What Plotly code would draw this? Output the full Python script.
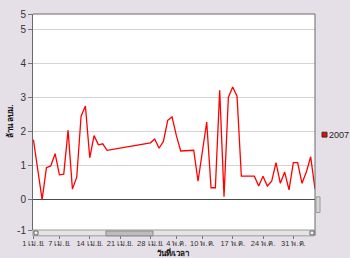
import plotly.graph_objects as go

# ---- data ----
dates = [
    "2007-04-01", "2007-04-02", "2007-04-03", "2007-04-04", "2007-04-05",
    "2007-04-06", "2007-04-07", "2007-04-08", "2007-04-09", "2007-04-10",
    "2007-04-11", "2007-04-12", "2007-04-13", "2007-04-14", "2007-04-15",
    "2007-04-16", "2007-04-17", "2007-04-18",
    "2007-04-28", "2007-04-29", "2007-04-30", "2007-05-01", "2007-05-02",
    "2007-05-03", "2007-05-04", "2007-05-05",
    "2007-05-08", "2007-05-09",
    "2007-05-11", "2007-05-12", "2007-05-13", "2007-05-14", "2007-05-15",
    "2007-05-16", "2007-05-17", "2007-05-18", "2007-05-19",
    "2007-05-22", "2007-05-23", "2007-05-24", "2007-05-25", "2007-05-26",
    "2007-05-27", "2007-05-28", "2007-05-29", "2007-05-30", "2007-05-31",
    "2007-06-01", "2007-06-02", "2007-06-03", "2007-06-04", "2007-06-05",
]
values_2007 = [
    1.76, 0.95, 0.00, 0.94, 0.99,
    1.35, 0.73, 0.75, 2.04, 0.31,
    0.66, 2.45, 2.75, 1.23, 1.88,
    1.61, 1.64, 1.45,
    1.67, 1.78, 1.51, 1.71, 2.33,
    2.43, 1.88, 1.43,
    1.45, 0.54,
    2.28, 0.35, 0.35, 3.21, 0.09,
    3.00, 3.31, 3.04, 0.69,
    0.69, 0.40, 0.69, 0.40, 0.54,
    1.09, 0.48, 0.81, 0.29, 1.09,
    1.09, 0.48, 0.81, 1.26, 0.31,
]
series_name = "2007"

x_tick_dates = ["2007-04-01", "2007-04-07", "2007-04-14", "2007-04-21", "2007-04-28",
                "2007-05-04", "2007-05-10", "2007-05-17", "2007-05-24", "2007-05-31"]
x_tick_labels = ["1 เม.ย.", "7 เม.ย.", "14 เม.ย.", "21 เม.ย.", "28 เม.ย.",
                 "4 พ.ค.", "10 พ.ค.", "17 พ.ค.", "24 พ.ค.", "31 พ.ค."]
x_range = ["2007-03-31 21:36", "2007-06-05 00:00"]

y_min, y_max = -0.89, 5.45
y_tick_vals = [y_min, 0, 1, 2, 3, 4, 5, y_max]
y_tick_labels = ["-1", "0", "1", "2", "3", "4", "5", "5"]

y_title = "ล้าน ลบม."
x_title = "วันที่/เวลา"

# ---- layout geometry (pixels) ----
W, H = 350, 258
L, R, T, B = 33, 315, 8, 230

def px(x):
    return (x - L) / (R - L)

def py(y):
    return (B - y) / (B - T)

BG = "#E5DFE7"
FONT = "Liberation Sans, DejaVu Sans, sans-serif"

fig = go.Figure()
fig.add_trace(go.Scatter(
    x=dates, y=values_2007, mode="lines", name=series_name,
    line=dict(color="#FF0000", width=1.3), showlegend=False,
))

shapes = []
# frame top & right
shapes.append(dict(type="line", xref="paper", yref="paper", x0=0, x1=1, y0=1, y1=1,
                   line=dict(color="#6a6a6a", width=1)))
shapes.append(dict(type="line", xref="paper", yref="paper", x0=1, x1=1, y0=py(236), y1=1,
                   line=dict(color="#6a6a6a", width=1)))
# horizontal scrollbar track
shapes.append(dict(type="rect", xref="paper", yref="paper", x0=0, x1=px(314), y0=py(236), y1=py(230),
                   fillcolor="#E4E4E4", line=dict(color="#9a9a9a", width=1), layer="above"))
shapes.append(dict(type="rect", xref="paper", yref="paper", x0=px(106), x1=px(153), y0=py(236), y1=py(231),
                   fillcolor="#BDBDBD", line=dict(color="#8a8a8a", width=1), layer="above"))
shapes.append(dict(type="rect", xref="paper", yref="paper", x0=px(34), x1=px(38), y0=py(235), y1=py(231),
                   fillcolor="#F4F4F4", line=dict(color="#666666", width=1), layer="above"))
shapes.append(dict(type="rect", xref="paper", yref="paper", x0=px(310), x1=px(314), y0=py(235), y1=py(231),
                   fillcolor="#F4F4F4", line=dict(color="#666666", width=1), layer="above"))
# vertical scrollbar piece at right
shapes.append(dict(type="rect", xref="paper", yref="paper", x0=px(316), x1=px(320), y0=py(212), y1=py(196),
                   fillcolor="#D6D6D6", line=dict(color="#9a9a9a", width=1), layer="above"))
# legend square
shapes.append(dict(type="rect", xref="paper", yref="paper", x0=px(322), x1=px(327), y0=py(134.5), y1=py(129.5),
                   fillcolor="#FF0000", line=dict(color="#333333", width=1), layer="above"))

annotations = [
    dict(text=series_name, xref="paper", yref="paper", x=px(328), y=py(132),
         xanchor="left", yanchor="middle", showarrow=False, borderpad=0,
         font=dict(family=FONT, size=9, color="#222222")),
    dict(text="<b>" + x_title + "</b>", xref="paper", yref="paper", x=px(173), y=py(253.5),
         xanchor="center", yanchor="middle", showarrow=False, borderpad=0,
         font=dict(family=FONT, size=8, color="#111111")),
    dict(text="<b>" + y_title + "</b>", xref="paper", yref="paper", x=px(10), y=py(118),
         xanchor="center", yanchor="middle", showarrow=False, textangle=-90,
         font=dict(family=FONT, size=8, color="#111111")),
]

fig.update_layout(
    width=W, height=H,
    margin=dict(l=L, r=W - R, t=T, b=H - B, pad=0),
    paper_bgcolor=BG, plot_bgcolor="#FFFFFF",
    showlegend=False,
    shapes=shapes, annotations=annotations,
    font=dict(family=FONT, size=10, color="#333333"),
)
fig.update_xaxes(
    type="date", range=x_range, showgrid=False, zeroline=False,
    tickmode="array", tickvals=x_tick_dates, ticktext=x_tick_labels,
    tickangle=0,
    ticks="outside", ticklen=8, tickcolor="#777777", tickwidth=1,
    ticklabelstandoff=-2,
    tickfont=dict(family=FONT, size=7.5, color="#333333"),
    showline=False, fixedrange=True,
)
fig.update_yaxes(
    range=[y_min, y_max], tickmode="array", tickvals=y_tick_vals, ticktext=y_tick_labels,
    showgrid=True, gridcolor="#D4D4D4", gridwidth=1,
    zeroline=True, zerolinecolor="#4a4a4a", zerolinewidth=1,
    showline=True, linecolor="#6a6a6a", linewidth=1,
    ticks="outside", ticklen=4, tickcolor="#777777",
    tickfont=dict(family=FONT, size=10, color="#333333"),
    fixedrange=True,
)

fig.write_html("out.html", config={"displayModeBar": False})
